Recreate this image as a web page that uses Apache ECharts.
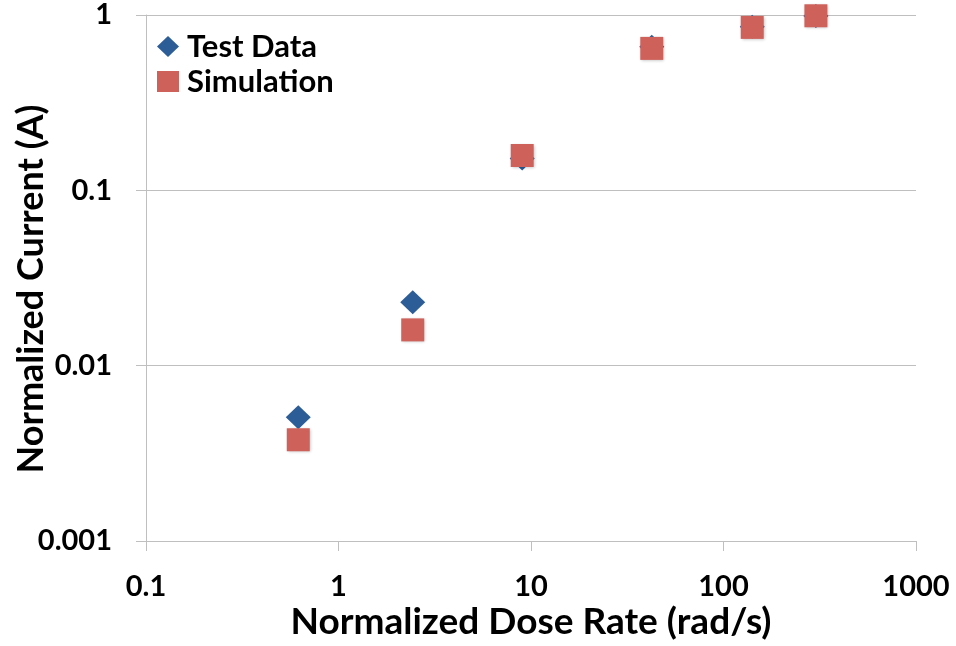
<!DOCTYPE html>
<html>
<head>
<meta charset="utf-8">
<script src="https://cdn.jsdelivr.net/npm/echarts@6/dist/echarts.min.js"></script>
<style>
  html, body { margin: 0; padding: 0; background: #fff; }
  #chart { width: 956px; height: 646px; }
</style>
</head>
<body>
<div id="chart"></div>
<script>
// dose rate (x) for each measured point
var doseRate = [0.618, 2.43, 9.0, 42.4, 141, 302];
// measured current, normalized
var testData = [0.00508, 0.0230, 0.152, 0.658, 0.856, 0.987];
// simulated current, normalized
var simulation = [0.00378, 0.0160, 0.158, 0.645, 0.850, 0.990];

var xTicks = [0.1, 1, 10, 100, 1000];
var yTicks = [0.001, 0.01, 0.1, 1];

function pairs(xs, ys) {
  var out = [];
  for (var i = 0; i < xs.length; i++) {
    out.push([xs[i], ys[i]]);
  }
  return out
}

function fmt(v) {
  return String(+(+v).toPrecision(3));
}

var font = 'Lato';
var gridColor = '#BFBFBF';

var myChart = echarts.init(document.getElementById('chart'), null, {renderer: 'canvas'});
var option = {
  backgroundColor: '#ffffff',
  animation: false,
  grid: {left: 146, right: 40, top: 15, bottom: 105, containLabel: false, outerBoundsMode: 'none'},
  legend: {
    orient: 'vertical',
    left: 152,
    top: 26,
    itemGap: 4,
    itemWidth: 22,
    itemHeight: 21,
    textStyle: {fontFamily: font, fontWeight: 'bold', fontSize: 31, lineHeight: 28, color: '#000', padding: [0, 0, 0, 3]},
    data: [
      {name: 'Test Data', icon: 'diamond'},
      {name: 'Simulation', icon: 'rect'}
    ]
  },
  xAxis: {
    type: 'log',
    logBase: 10,
    min: xTicks[0],
    max: xTicks[xTicks.length - 1],
    name: 'Normalized Dose Rate (rad/s)',
    nameLocation: 'middle',
    nameGap: 63,
    nameMoveOverlap: false,
    nameTextStyle: {fontFamily: font, fontWeight: 'bold', fontSize: 37, color: '#000'},
    axisLine: {show: true, lineStyle: {color: gridColor, width: 1}},
    axisTick: {show: true, length: 10, inside: false, lineStyle: {color: gridColor}},
    minorTick: {show: false},
    splitLine: {show: false},
    axisLabel: {
      margin: 31,
      fontFamily: font, fontWeight: 'bold', fontSize: 29, color: '#000',
      formatter: fmt
    }
  },
  yAxis: {
    type: 'log',
    logBase: 10,
    min: yTicks[0],
    max: yTicks[yTicks.length - 1],
    name: 'Normalized Current (A)',
    nameLocation: 'middle',
    nameGap: 97,
    nameMoveOverlap: false,
    nameTextStyle: {fontFamily: font, fontWeight: 'bold', fontSize: 36, color: '#000', padding: [0, 22, 0, 0]},
    axisLine: {show: true, lineStyle: {color: gridColor, width: 1}},
    axisTick: {show: true, length: 10, inside: false, lineStyle: {color: gridColor}},
    splitLine: {show: true, lineStyle: {color: gridColor, width: 1}},
    axisLabel: {
      margin: 34,
      fontFamily: font, fontWeight: 'bold', fontSize: 29, color: '#000',
      formatter: fmt
    }
  },
  series: [
    {
      name: 'Test Data',
      type: 'scatter',
      symbol: 'diamond',
      symbolSize: [25, 24],
      itemStyle: {color: '#2C5D97', opacity: 1},
      data: pairs(doseRate, testData)
    },
    {
      name: 'Simulation',
      type: 'scatter',
      symbol: 'rect',
      symbolSize: 23,
      itemStyle: {
        color: '#CF615B',
        opacity: 1,
        shadowColor: 'rgba(0,0,0,0.25)',
        shadowBlur: 3,
        shadowOffsetX: 1,
        shadowOffsetY: 1
      },
      data: pairs(doseRate, simulation)
    }
  ]
};
myChart.setOption(option, true);
</script>
</body>
</html>
